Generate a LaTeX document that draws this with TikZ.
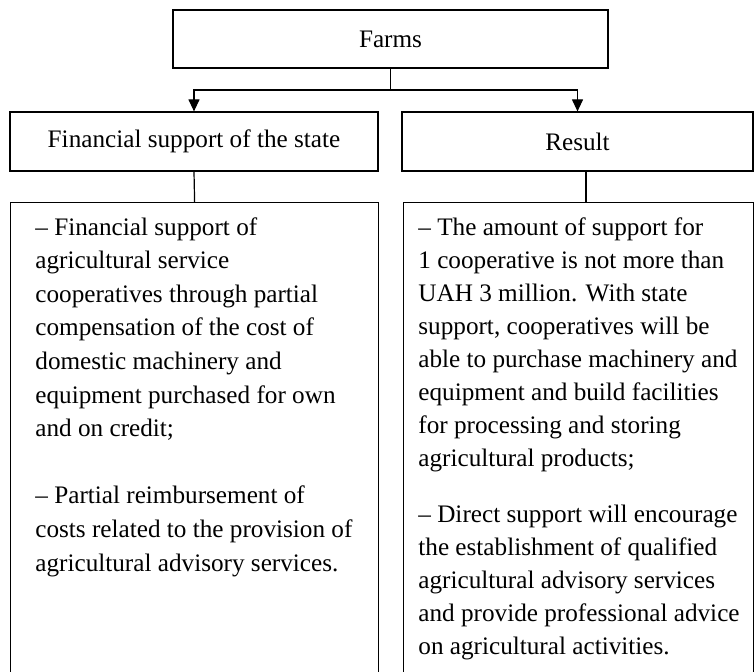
\documentclass[tikz,border=0pt]{standalone}
\usepackage{fontspec}
\setmainfont{Liberation Serif}
\usetikzlibrary{arrows.meta}

\begin{document}
\begin{tikzpicture}[x=0.5pt,y=-0.5pt,
  box/.style={draw,line width=0.6pt,inner sep=0pt,font=\fontsize{12.6}{15}\selectfont},
  listtext/.style={inner sep=0pt,anchor=north west,align=left,font=\fontsize{12.6}{16.5}\selectfont},
  arr/.style={line width=0.6pt,-{Triangle[length=6pt,width=5.5pt]}}]
\clip (0,0) rectangle (755,672);
\node[box,minimum width=217.5pt,minimum height=29pt] (farms) at (390.5,39) {Farms};
\node[box,minimum width=184pt,minimum height=29.5pt] (support) at (194,141.5) {Financial support of the state};
\node[box,minimum width=175.5pt,minimum height=29.5pt] (result) at (577.5,141.5) {Result};
\node[box,anchor=north west,minimum width=184pt,minimum height=260pt] (supportlist) at (10,202) {};
\node[box,anchor=north west,minimum width=175pt,minimum height=260pt] (resultlist) at (403,202) {};
\node[listtext,font=\fontsize{12.6}{16.8}\selectfont] (supporttext) at (35,217) {-- Financial support of\\ agricultural service\\ cooperatives through partial\\ compensation of the cost of\\ domestic machinery and\\ equipment purchased for own\\ and on credit;\\[16.8pt]
-- Partial reimbursement of\\ costs related to the provision of\\ agricultural advisory services.};
\node[listtext] (resulttext) at (418,217) {-- The amount of support for\\ 1 cooperative is not more than\\ UAH 3 million. With state\\ support, cooperatives will be\\ able to purchase machinery and\\ equipment and build facilities\\ for processing and storing\\ agricultural products;\\[11.5pt]
-- Direct support will encourage\\ the establishment of qualified\\ agricultural advisory services\\ and provide professional advice\\ on agricultural activities.};
\coordinate (fork) at (390.5,90);
\draw[line width=0.6pt] (farms.south) -- (fork);
\draw[arr] (fork) -| (support.north);
\draw[arr] (fork) -| (result.north);
\draw[line width=0.6pt] (support.south) -- (supportlist.north);
\coordinate (rlink) at (586,202);
\draw[line width=0.6pt] (rlink |- result.south) -- (rlink);
\end{tikzpicture}
\end{document}
